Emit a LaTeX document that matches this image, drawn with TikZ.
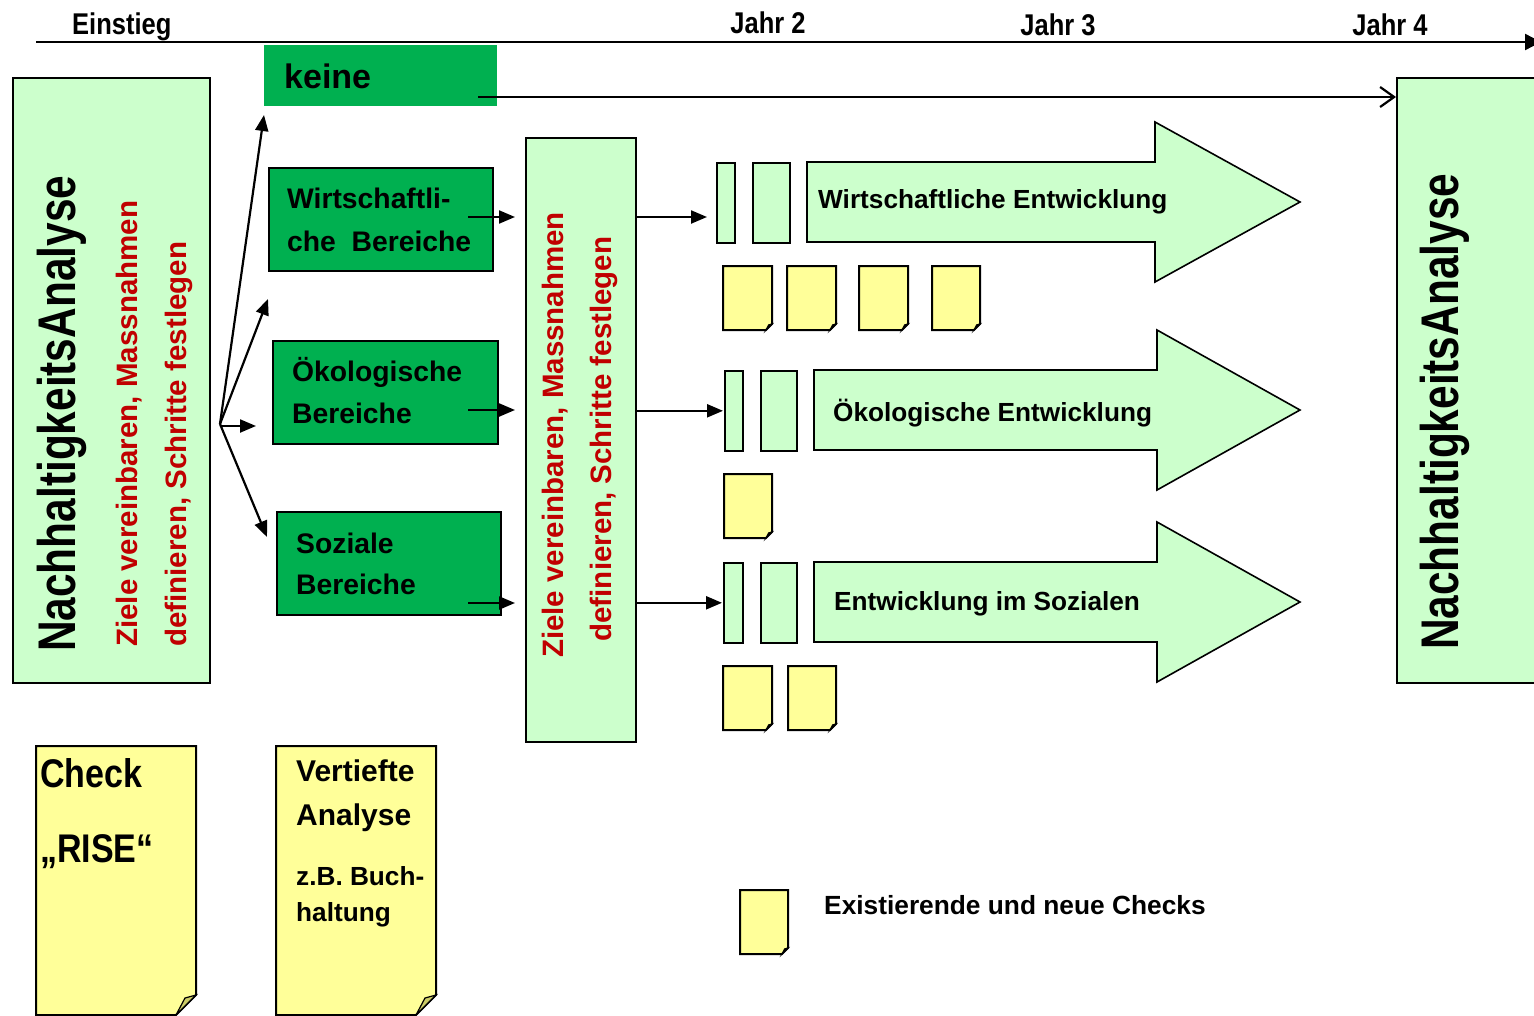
\documentclass[tikz,border=0pt]{standalone}
\usepackage{fontspec}
\setmainfont{Liberation Sans}
\newfontfamily\narrowfont[FakeStretch=0.85]{Liberation Sans}
\newfontfamily\titlefont[FakeStretch=0.8]{Liberation Sans}
\usetikzlibrary{arrows.meta}
\definecolor{lgreen}{HTML}{CCFFCC}
\definecolor{dgreen}{HTML}{00B050}
\definecolor{noteyel}{HTML}{FFFF99}
\definecolor{flapcol}{HTML}{CCCC66}
\definecolor{zred}{HTML}{C00000}
\newcommand\fsz[2]{\fontsize{#1}{#2}\selectfont}
\newcommand\stnote[6]{%
  \draw[notebody] (#2,#3) -- (#2+#4,#3) -- (#2+#4,#3+#5-#6) -- (#2+#4-#6,#3+#5) -- (#2,#3+#5) -- cycle;
  \draw[flap] (#2+#4,#3+#5-#6) -- (#2+#4-0.55*#6,#3+#5-0.85*#6) -- (#2+#4-#6,#3+#5) -- cycle;
  \coordinate (#1) at (#2+#4/2,#3+#5/2);
}
\begin{document}
\begin{tikzpicture}[x=1pt,y=-1pt,
  lgbox/.style={draw=black, line width=1.6pt, fill=lgreen, inner sep=0pt},
  dgbox/.style={draw=black, line width=1.6pt, fill=dgreen, inner sep=0pt},
  txt/.style={inner sep=0pt, font=\bfseries\fsz{#1}{#1}},
  ntxt/.style={inner sep=0pt, font=\narrowfont\bfseries\fsz{#1}{#1}},
  ttxt/.style={inner sep=0pt, rotate=90, font=\titlefont\bfseries\fsz{53}{53}},
  arr/.style={line width=2.2pt, -{Triangle[length=16pt,width=13pt]}},
  notebody/.style={draw=black, line width=2pt, fill=noteyel, line join=miter},
  flap/.style={draw=black, line width=1.2pt, fill=flapcol, line join=miter},
  bigarrow/.style={draw=black, line width=1.6pt, fill=lgreen, line join=miter},
  redtxt/.style={inner sep=0pt, text=zred, rotate=90, font=\bfseries\fsz{29.5}{29.5}}
]
\useasboundingbox (0,0) rectangle (1534,1015);
\fill[white] (0,0) rectangle (1534,1015);

% time axis
\coordinate (ax0) at (36,42);
\coordinate (ax1) at (1541,42);
\draw[line width=2.4pt, -{Triangle[length=16pt,width=16pt]}] (ax0) -- (ax1);
\node[ntxt=30, anchor=base west] (tEin) at (72,34) {Einstieg};
\node[ntxt=30, anchor=base] (tJ2) at (768,33) {Jahr 2};
\node[ntxt=30, anchor=base] (tJ3) at (1058,35) {Jahr 3};
\node[ntxt=30, anchor=base] (tJ4) at (1390,35) {Jahr 4};

% left and right analysis boxes
\node[lgbox, anchor=north west, minimum width=197pt, minimum height=605pt] (L) at (12,77) {};
\node[ttxt, anchor=base west] (Ltitle) at (75,652) {NachhaltigkeitsAnalyse};
\node[redtxt, anchor=base west] (Lr1) at (137,647) {Ziele vereinbaren, Massnahmen};
\node[redtxt, anchor=base west] (Lr2) at (186,647) {definieren, Schritte festlegen};

\node[lgbox, anchor=north west, minimum width=160pt, minimum height=605pt] (R) at (1396,77) {};
\node[ttxt, anchor=base west] (Rtitle) at (1458,650) {NachhaltigkeitsAnalyse};

% green boxes
\node[fill=dgreen, inner sep=0pt, anchor=north west, minimum width=233pt, minimum height=61pt] (K) at (264,45) {};
\node[txt=34, anchor=base west] (tK) at (284,88) {keine};

\node[dgbox, anchor=north west, minimum width=224pt, minimum height=103pt] (W) at (268,167) {};
\node[txt=28.3, anchor=base west] (tW1) at (287,208) {Wirtschaftli-};
\node[txt=28.3, anchor=base west] (tW2) at (287,251) {che~~Bereiche};

\node[dgbox, anchor=north west, minimum width=225pt, minimum height=103pt] (O) at (272,340) {};
\node[txt=28.3, anchor=base west] (tO1) at (292,381) {Ökologische};
\node[txt=28.3, anchor=base west] (tO2) at (292,423) {Bereiche};

\node[dgbox, anchor=north west, minimum width=224pt, minimum height=103pt] (S) at (276,511) {};
\node[txt=28.3, anchor=base west] (tS1) at (296,553) {Soziale};
\node[txt=28.3, anchor=base west] (tS2) at (296,594) {Bereiche};

% middle box
\node[lgbox, anchor=north west, minimum width=110pt, minimum height=604pt] (M) at (525,137) {};
\node[redtxt, anchor=base] (Mr1) at (563,435) {Ziele vereinbaren, Massnahmen};
\node[redtxt, anchor=base] (Mr2) at (611,439) {definieren, Schritte festlegen};

% branching arrows
\coordinate (br) at (220,424);
\coordinate (b1) at (264,115);
\coordinate (b2) at (268,299);
\coordinate (b3) at (256,426);
\coordinate (b4) at (267,537);
\draw[arr] (br) -- (b1);
\draw[arr] (br) -- (b2);
\draw[arr] (br |- b3) -- (b3);
\draw[arr] (br) -- (b4);

% keine -> right box
\coordinate (k0) at (478,97);
\draw[line width=2.2pt, -{Straight Barb[length=14pt,width=20pt]}] (k0) -- (k0 -| R.west);

% arrows into middle box
\coordinate (w1) at (468,217);
\coordinate (o1) at (468,410);
\coordinate (s1) at (468,603);
\draw[arr, shorten >=10pt] (w1) -- (w1 -| M.west);
\draw[arr, shorten >=10pt] (o1) -- (o1 -| M.west);
\draw[arr, shorten >=10pt] (s1) -- (s1 -| M.west);

% row rectangles
\node[lgbox, anchor=north west, minimum width=18pt, minimum height=80pt] (A1) at (716,162) {};
\node[lgbox, anchor=north west, minimum width=37pt, minimum height=80pt] (A2) at (752,162) {};
\node[lgbox, anchor=north west, minimum width=18pt, minimum height=80pt] (B1) at (724,370) {};
\node[lgbox, anchor=north west, minimum width=36pt, minimum height=80pt] (B2) at (760,370) {};
\node[lgbox, anchor=north west, minimum width=19pt, minimum height=80pt] (C1) at (723,562) {};
\node[lgbox, anchor=north west, minimum width=36pt, minimum height=80pt] (C2) at (760,562) {};

% arrows from middle box
\coordinate (m1) at (635,217);
\draw[arr, shorten >=9pt] (m1 -| M.east) -- (m1 -| A1.west);
\draw[arr, shorten >=1pt] (M.east |- B1.west) -- (B1.west);
\draw[arr, shorten >=1pt] (M.east |- C1.west) -- (C1.west);

% big arrows
\draw[bigarrow] (807,162) -- (1155,162) -- (1155,122) -- (1300,202) -- (1155,282) -- (1155,242) -- (807,242) -- cycle;
\node[txt=26.2, anchor=base west] (E1) at (818,208) {Wirtschaftliche Entwicklung};
\draw[bigarrow] (814,370) -- (1157,370) -- (1157,330) -- (1300,410) -- (1157,490) -- (1157,450) -- (814,450) -- cycle;
\node[txt=26.2, anchor=base west] (E2) at (833,421) {Ökologische Entwicklung};
\draw[bigarrow] (814,562) -- (1157,562) -- (1157,522) -- (1300,602) -- (1157,682) -- (1157,642) -- (814,642) -- cycle;
\node[txt=26.2, anchor=base west] (E3) at (834,610) {Entwicklung im Sozialen};

% small check notes
\stnote{n11}{723}{266}{49}{64}{6}
\stnote{n12}{787}{266}{49}{64}{6}
\stnote{n13}{859}{266}{49}{64}{6}
\stnote{n14}{932}{266}{48}{64}{6}
\stnote{n21}{724}{474}{48}{64}{6}
\stnote{n31}{723}{666}{49}{64}{6}
\stnote{n32}{788}{666}{48}{64}{6}

% bottom notes
\stnote{nCheck}{36}{746}{160}{269}{20}
\node[ntxt=40, anchor=base west] (tCheck) at (40,787) {Check};
\node[ntxt=40, anchor=base west] (tRise) at (40,862) {„RISE“};
\stnote{nVert}{276}{746}{160}{269}{20}
\node[txt=30, anchor=base west] (tV1) at (296,781) {Vertiefte};
\node[txt=30, anchor=base west] (tV2) at (296,825) {Analyse};
\node[txt=26.2, anchor=base west] (tV3) at (296,885) {z.B. Buch-};
\node[txt=26.2, anchor=base west] (tV4) at (296,921) {haltung};

% legend
\stnote{nLeg}{740}{890}{48}{64}{6}
\node[txt=26.3, anchor=base west] (tLeg) at (824,914) {Existierende und neue Checks};
\end{tikzpicture}
\end{document}
